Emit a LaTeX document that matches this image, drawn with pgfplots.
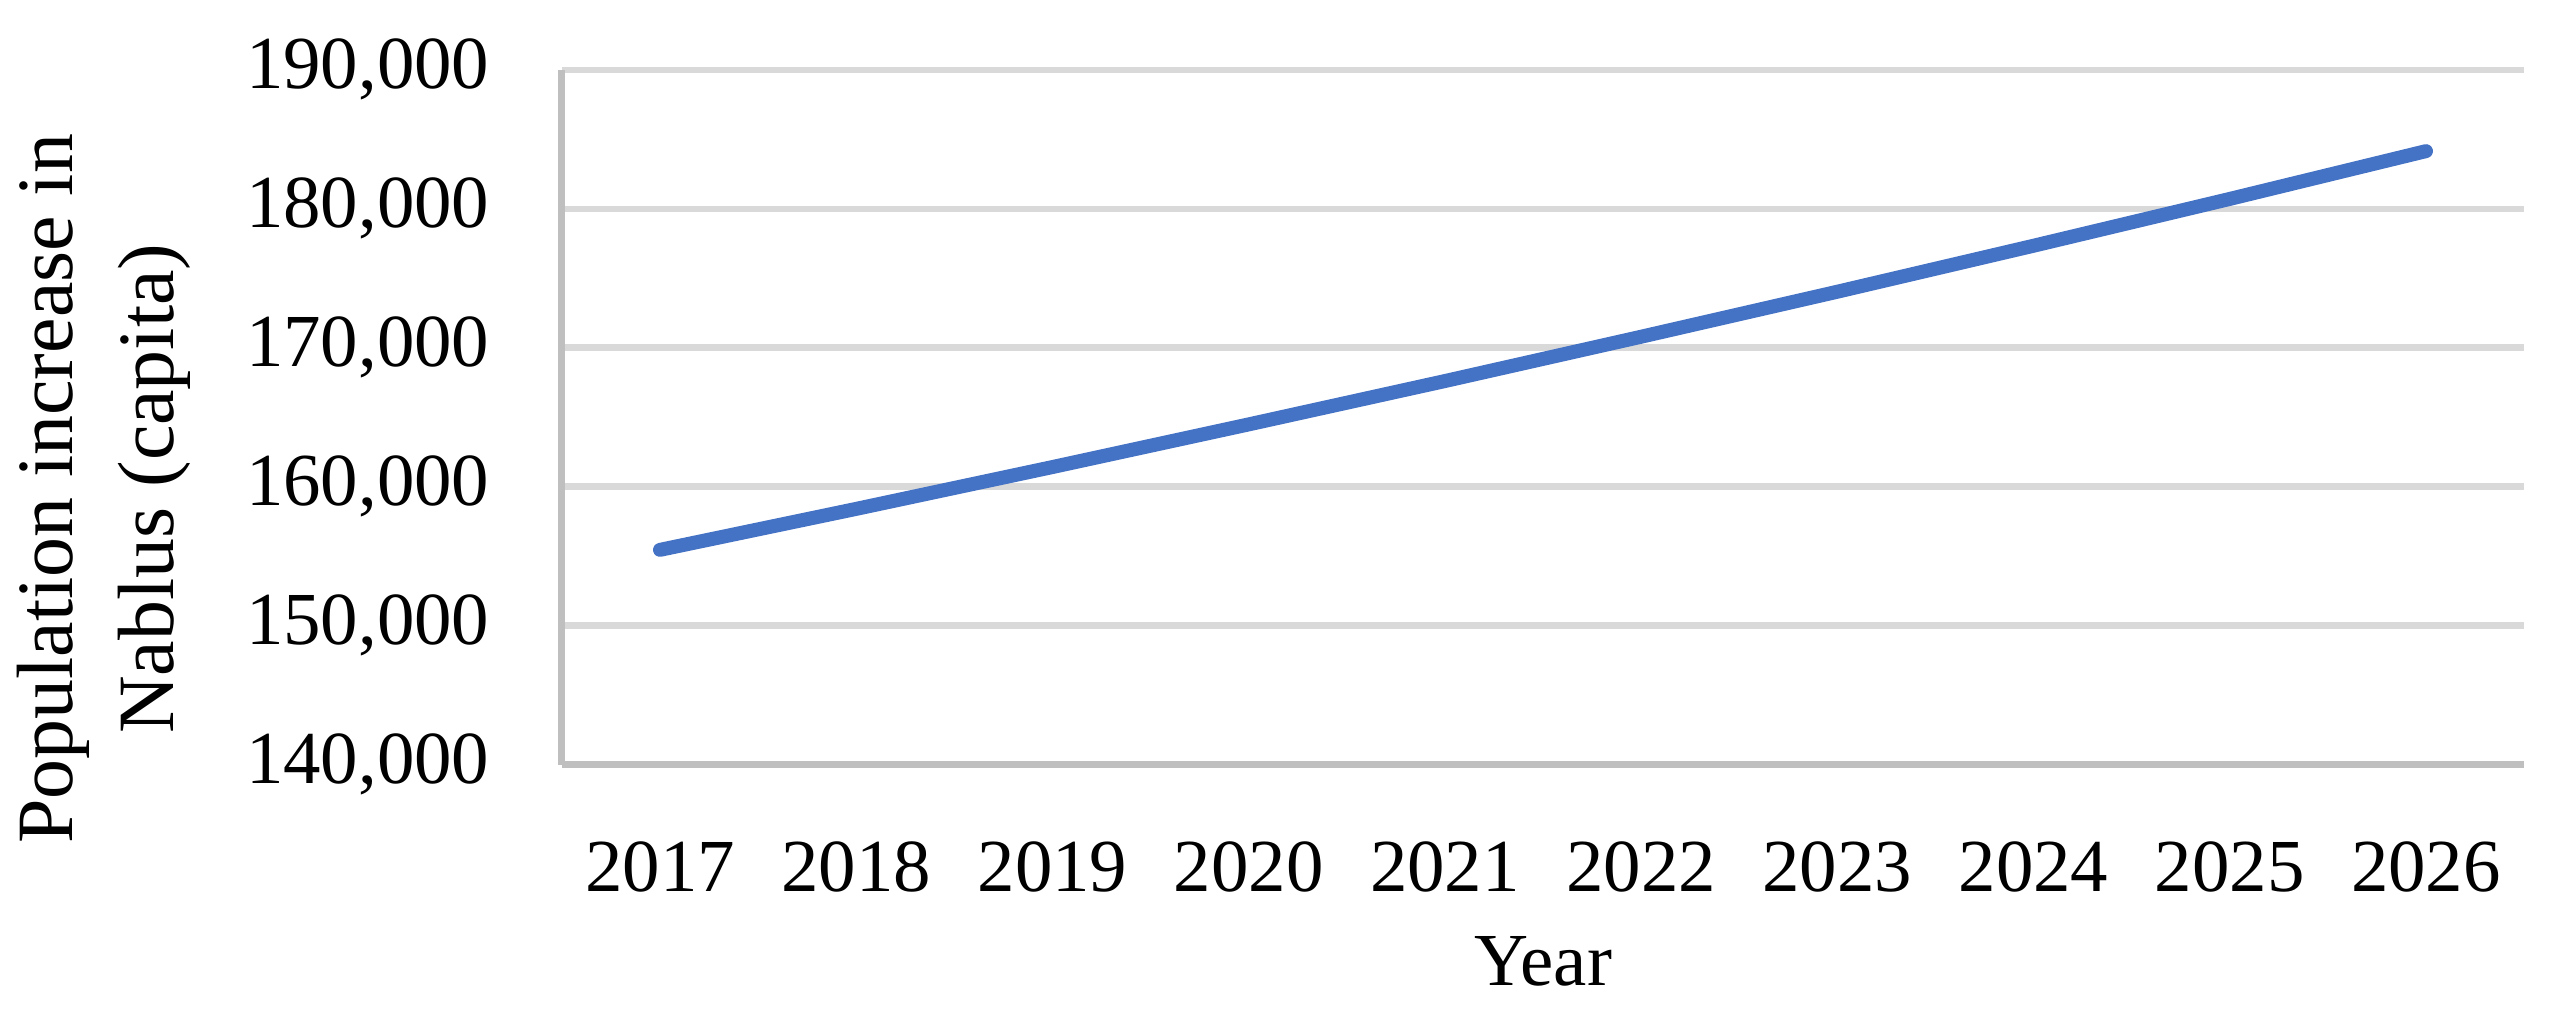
\documentclass[border=0pt]{standalone}
\usepackage{pgfplots}
\pgfplotsset{compat=1.18}
\usepackage{fontspec}
\setmainfont{Liberation Serif}
\definecolor{lineblue}{HTML}{4472C4}
\definecolor{gridgray}{HTML}{D9D9D9}
\definecolor{axisgray}{HTML}{BFBFBF}
\begin{document}
\begin{tikzpicture}
\begin{axis}[
  scale only axis,
  width=393.2pt, height=139.2pt,
  xmin=-0.5, xmax=9.5,
  ymin=140000, ymax=190000,
  ytick={140000,150000,160000,170000,180000,190000},
  yticklabels={{140,000},{150,000},{160,000},{170,000},{180,000},{190,000}},
  xtick=data,
  xticklabels={2017,2018,2019,2020,2021,2022,2023,2024,2025,2026},
  scaled y ticks=false,
  axis x line=bottom, axis y line=left,
  axis line style={draw=axisgray, line width=1.4pt, -},
  major tick length=0pt,
  ymajorgrids,
  major grid style={draw=gridgray, line width=1.3pt},
  ticklabel style={font=\fontsize{15}{18}\selectfont},
  yticklabel style={xshift=-11pt},
  xticklabel style={yshift=-12pt},
  xlabel={Year},
  ylabel={Population increase in\\Nablus (capita)},
  every axis x label/.style={at={(rel axis cs:0.5,0)}, anchor=north, yshift=-31pt, font=\fontsize{15}{18}\selectfont},
  every axis y label/.style={at={(rel axis cs:-0.2335,0.397)}, rotate=90, anchor=center, align=center, font=\fontsize{16}{20.4}\selectfont},
  clip=false,
]
\addplot[color=lineblue, line width=2.8pt, line cap=round, line join=round] coordinates {
  (0,155450) (1,158400) (2,161410) (3,164480) (4,167600)
  (5,170790) (6,174030) (7,177340) (8,180710) (9,184150)
};
\end{axis}
\path (current axis.south west) ++(-111.6pt,-50.2pt) rectangle ++(511.4pt,203.4pt);
\end{tikzpicture}
\end{document}
